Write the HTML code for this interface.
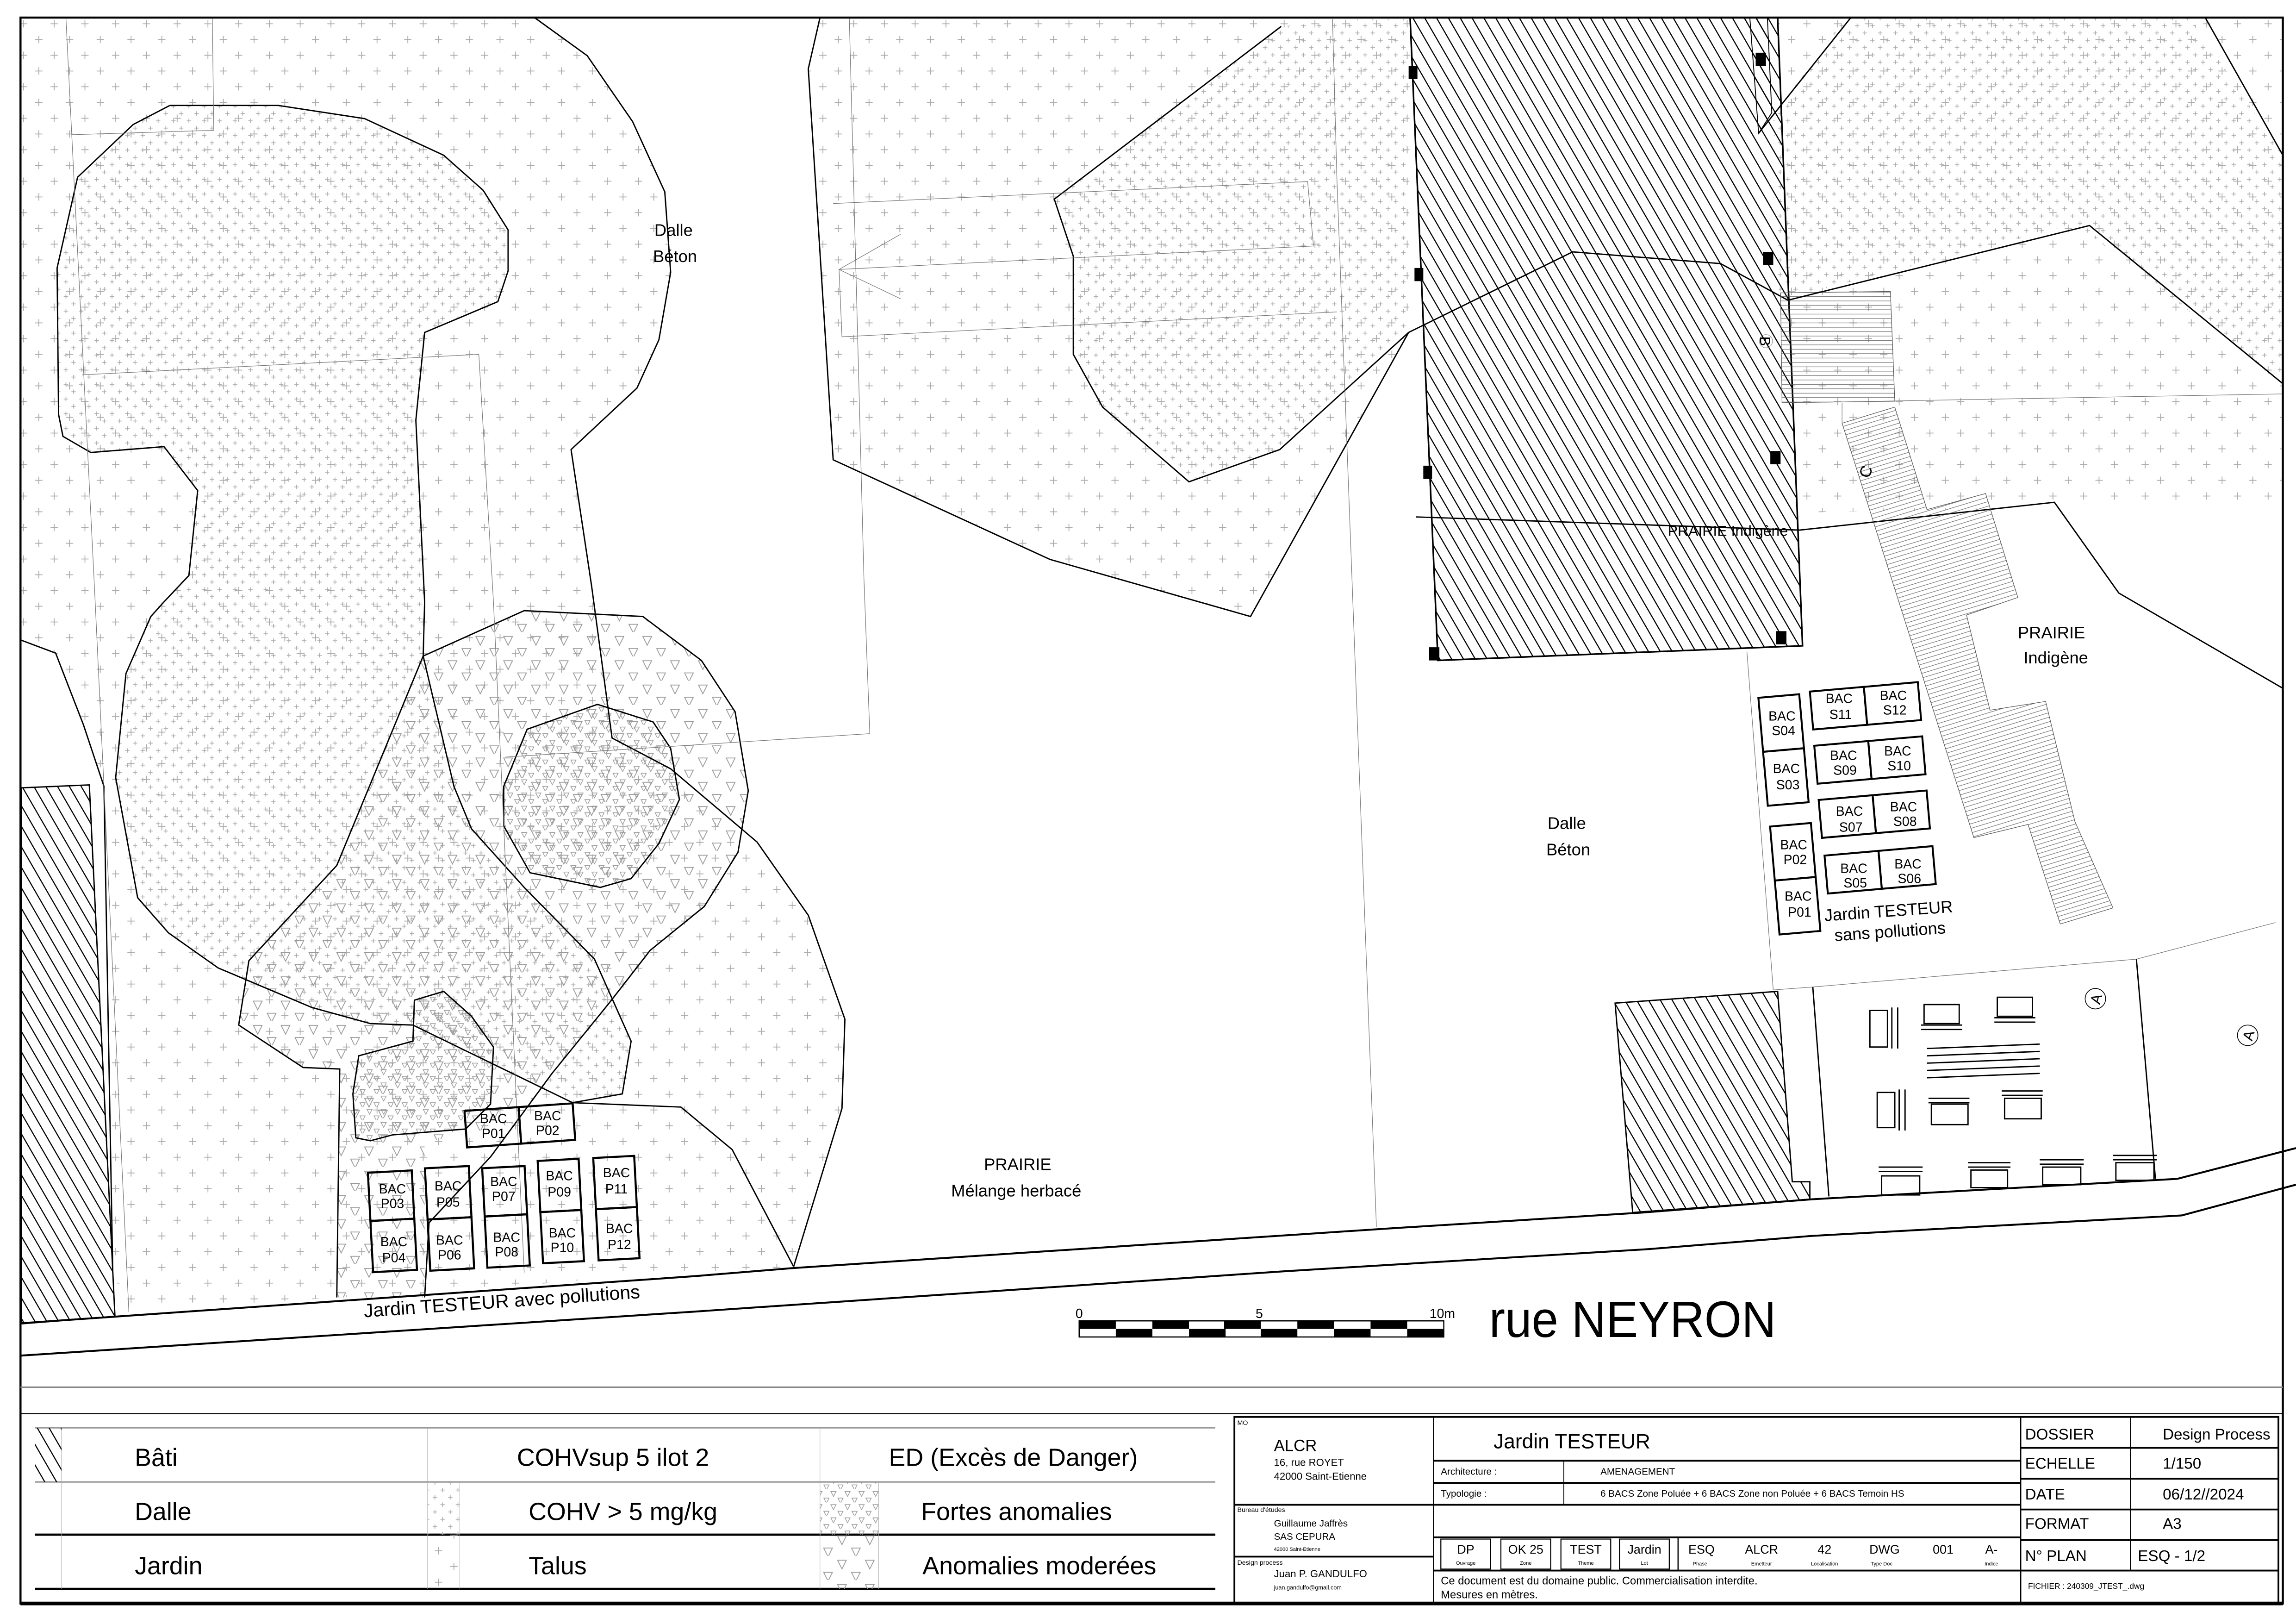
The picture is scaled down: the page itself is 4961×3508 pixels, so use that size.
<!DOCTYPE html>
<html><head><meta charset="utf-8"><style>
html,body{margin:0;padding:0;background:#fff}
svg{display:block}
text{font-family:"Liberation Sans",sans-serif;fill:#000}
</style></head><body>
<svg xmlns="http://www.w3.org/2000/svg" width="4961" height="3508" viewBox="0 0 1568 1109" preserveAspectRatio="none">
<defs>
<pattern id="pl" patternUnits="userSpaceOnUse" width="21" height="21.5">
<g stroke="#aaa" stroke-width="0.55"><path d="M3 5.5h5M5.5 3v5M13.5 16.25h5M16 13.75v5"/></g></pattern>
<pattern id="pld" patternUnits="userSpaceOnUse" width="10.5" height="10">
<g stroke="#aaa" stroke-width="0.5"><path d="M1.5 2.5h3M3 1v3M6.75 7.5h3M8.25 6v3"/></g></pattern>
<pattern id="tr" patternUnits="userSpaceOnUse" width="19" height="16.6">
<g fill="none" stroke="#999" stroke-width="0.55"><path d="M2 3h6l-3 6z"/><path d="M11.5 11.3h6l-3 6z"/></g></pattern>
<pattern id="trd" patternUnits="userSpaceOnUse" width="9.6" height="9">
<g fill="none" stroke="#999" stroke-width="0.45"><path d="M1 1.5h3.6l-1.8 3.4z"/><path d="M5.8 6h3.6l-1.8 3.4z"/></g></pattern>
<pattern id="ha" patternUnits="userSpaceOnUse" width="7" height="7" patternTransform="rotate(-30)">
<path d="M3.5 -1v9" stroke="#000" stroke-width="0.75"/></pattern>
<pattern id="st" patternUnits="userSpaceOnUse" width="20" height="3" patternTransform="rotate(-17)">
<path d="M0 1.5h20" stroke="#555" stroke-width="0.35"/></pattern>
<pattern id="st2" patternUnits="userSpaceOnUse" width="20" height="3">
<path d="M0 1.5h20" stroke="#555" stroke-width="0.35"/></pattern>
</defs>
<rect width="1568" height="1109" fill="#fff"/>

<!-- LEFT plus region -->
<path d="M14 12 L365 12 L401 38 L432 83 L454 131 L458 186 L450 232 L435 265 L390 307 L404 400 L418 504 L458 525 L517 575 L552 625 L577 696 L575 757 L542 865 L230 886 L88 896 L77 869 L71 537 L57 495 L38 446 L14 437 Z" fill="url(#pl)"/>
<!-- mushroom dense plus -->
<path d="M116 72 L190 72 L249 81 L303 106 L330 130 L347 157 L347 185 L340 206 L290 227 L284 287 L290 411 L289 448 L310 537 L322 566 L358 606 L406 655 L431 711 L425 747 L391 753 L282 700 L253 699 L213 688 L149 661 L115 637 L94 613 L79 531 L86 460 L103 421 L126 395 L129 393 L135 335 L112 305 L62 309 L43 298 L40 283 L39 183 L53 121 L91 85 Z" fill="url(#pld)"/>
<!-- triangles region -->
<path d="M289 448 L358 417 L439 421 L479 451 L502 486 L511 540 L504 582 L481 619 L444 649 L416 685 L377 733 L352 767 L290 780 L290 886 L230 886 L232 730 L207 729 L163 700 L170 656 L230 591 Z" fill="url(#tr)"/>
<path d="M360 498 L408 481 L446 493 L458 511 L464 546 L450 576 L431 600 L410 606 L362 596 L344 564 L344 537 Z" fill="url(#trd)"/>
<path d="M283 683 L303 677 L322 694 L337 715 L335 754 L318 771 L268 775 L253 779 L243 777 L241 747 L245 721 L282 711 Z" fill="url(#trd)"/>

<!-- TOP MIDDLE plus -->
<path d="M560 12 L963 12 L962 227 L854 421 L717 382 L569 314 L552 47 Z" fill="url(#pl)"/>
<path d="M875 18 L930 13 L962 13 L962 227 L874 307 L812 329 L753 278 L733 242 L733 175 L720 136 Z" fill="url(#pld)"/>

<!-- TOP RIGHT plus -->
<path d="M1214 12 L1559 12 L1559 470 L1447 405 L1403 343 L1229 361 L1222 205 Z" fill="url(#pl)"/>
<path d="M1260 12 L1496 12 L1559 106 L1559 262 L1418 153 L1215 205 L1211 79 Z" fill="url(#pld)"/>
<path d="M1229 362 L1403 343 L1447 405 L1559 470 L1559 344 L1229 350 Z" fill="#fff"/>

<!-- building hatched -->
<path d="M963 12 L1214 12 L1231 441 L982 451 Z" fill="url(#ha)" stroke="#000" stroke-width="1.1"/>
<path d="M1195 12 L1207 12 L1210 77 L1201 91 Z" fill="url(#ha)" stroke="#000" stroke-width="0.6"/>
<path d="M962 227 L1074 172 L1175 180 L1221 205" fill="none" stroke="#000" stroke-width="0.9"/>
<path d="M967 353 L1229 362 L1403 343 L1447 405 L1559 470" fill="none" stroke="#000" stroke-width="0.9"/>
<g fill="#000"><rect x="962" y="45" width="6" height="9"/><rect x="966" y="183" width="6" height="9"/><rect x="972" y="318" width="6" height="9"/><rect x="976" y="442" width="7" height="9"/>
<rect x="1199" y="36" width="7" height="9"/><rect x="1204" y="172" width="7" height="9"/><rect x="1209" y="308" width="7" height="9"/><rect x="1213" y="431" width="7" height="9"/></g>
<!-- stairs -->
<path d="M1216 200 L1291 199 L1294 274 L1217 275 Z" fill="url(#st2)" stroke="#555" stroke-width="0.4"/>
<path d="M1258 289 L1294 278 L1316 348 L1356 337 L1378 408 L1343 420 L1359 485 L1397 479 L1417 561 L1443 620 L1407 631 L1385 563 L1348 572 Z" fill="url(#st)" stroke="#555" stroke-width="0.4"/>
<circle cx="1206" cy="233" r="4.5" fill="none" stroke="#777" stroke-width="0.3"/>
<text x="1206" y="237" font-size="10" text-anchor="middle" transform="rotate(90 1206 233)">B</text>
<text x="1274" y="326" font-size="11" text-anchor="middle" transform="rotate(-70 1274 322)">C</text>

<!-- outlines left -->
<g fill="none" stroke="#000" stroke-width="0.9">
<path d="M365 12 L401 38 L432 83 L454 131 L458 186 L450 232 L435 265 L390 307 L404 400 L418 504 L458 525 L517 575 L552 625 L577 696 L575 757 L542 865"/>
<path d="M116 72 L190 72 L249 81 L303 106 L330 130 L347 157 L347 185 L340 206 L290 227 L284 287 L290 411 L289 448 L310 537 L322 566 L358 606 L406 655 L431 711 L425 747 L391 753"/>
<path d="M116 72 L91 85 L53 121 L39 183 L40 283 L43 298 L62 309 L112 305 L135 335 L129 393 L112 411 L103 421 L86 460 L79 531 L94 613 L115 637 L149 661 L213 688 L253 699 L282 700 L391 753 L465 756 L500 785 L542 865"/>
<path d="M289 448 L358 417 L439 421 L479 451 L502 486 L511 540 L504 582 L481 619 L444 649 L416 685 L377 733 L352 767 L335 790 L293 835 L290 886"/>
<path d="M289 448 L230 591 L170 656 L163 700 L207 729 L232 730 L230 886"/>
<path d="M360 498 L408 481 L446 493 L458 511 L464 546 L450 576 L431 600 L410 606 L362 596 L344 564 L344 537 Z"/>
<path d="M283 683 L303 677 L322 694 L337 715 L335 754 L318 771 L268 775 L253 779 L243 777 L241 747 L245 721 L282 711 Z"/>
<path d="M14 437 L38 446 L57 495 L71 537 L77 869"/>
<path d="M560 12 L552 47 L569 314 L717 382 L854 421 L962 227"/>
<path d="M875 18 L720 136 L733 175 L733 242 L753 278 L812 329 L874 307 L962 227"/>
<path d="M1264 12 L1201 91"/>
<path d="M1506 12 L1559 106"/>
<path d="M1221 205 L1427 154 L1559 262"/>
</g>
<!-- thin gray lines -->
<g fill="none" stroke="#777" stroke-width="0.4">
<path d="M45 12 L49 92 L146 89 L145 12"/>
<path d="M49 92 L65 411 L88 896"/>
<path d="M56 256 L327 242 L337 411 L358 869"/>
<path d="M345 517 L594 501 L590 395 L580 12"/>
<path d="M569 139 L893 124 L897 168 L573 184 M573 184 L575 230 L913 213 M913 122 L910 13 M913 122 L940 838 M615 160 L573 184 L615 204"/>
<path d="M1227 275 L1559 269"/>
<path d="M1193 445 L1211 676 M1211 676 L1238 674 L1459 655 L1554 630"/>
<path d="M1258 275 L1258 289"/>
</g>
<text x="1180" y="366" font-size="10" text-anchor="middle" textLength="82" lengthAdjust="spacingAndGlyphs">PRAIRIE Indigène</text>

<!-- left hatched strip -->
<path d="M14.5 538 L61 536 L78.5 899 L14.5 904 Z" fill="url(#ha)" stroke="#000" stroke-width="0.9"/>

<!-- lower right building -->
<path d="M1103 685 L1214 677 L1224 807 L1236 807 L1236 819 L1115 828 Z" fill="url(#ha)" stroke="#000" stroke-width="0.9"/>
<!-- plaza -->
<g fill="none" stroke="#000" stroke-width="0.9">
<path d="M1238 674 L1249 817"/><path d="M1459 655 L1472 805"/>
<path d="M1277 690 h12 v25 h-12 z M1292 688 v28 M1296 688 v28"/>
<path d="M1314 686 h24 v13 h-24 z M1312 700 h28 M1312 703 h28"/>
<path d="M1364 681 h24 v13 h-24 z M1362 695 h28 M1362 698 h28"/>
<path d="M1316 716 l77 -3 M1316 721 l77 -3 M1316 726 l77 -3 M1316 731 l77 -3 M1316 736 l77 -3"/>
<path d="M1282 746 h12 v24 h-12 z M1297 744 v28 M1301 744 v28"/>
<path d="M1319 754 h25 v14 h-25 z M1317 750 h28 M1317 753 h28"/>
<path d="M1369 750 h25 v14 h-25 z M1367 745 h28 M1367 748 h28"/>
<path d="M1285 803 h26 v13 h-26 z M1283 797 h30 M1283 800 h30"/>
<path d="M1346 799 h25 v12 h-25 z M1344 794 h29 M1344 797 h29"/>
<path d="M1395 797 h26 v12 h-26 z M1393 792 h30 M1393 795 h30"/>
<path d="M1445 794 h26 v12 h-26 z M1443 789 h30 M1443 792 h30"/>
</g>
<circle cx="1431" cy="682" r="7" fill="none" stroke="#000" stroke-width="0.5"/>
<text x="1431" y="686" font-size="10" text-anchor="middle" transform="rotate(-75 1431 682)">A</text>
<circle cx="1535" cy="707" r="7" fill="none" stroke="#000" stroke-width="0.5"/>
<text x="1535" y="711" font-size="10" text-anchor="middle" transform="rotate(-75 1535 707)">A</text>

<!-- road -->
<g fill="none" stroke="#000" stroke-width="1.3">
<path d="M14.5 903.6 L474 871.5 L541 866 L947 839 L1122 828 L1237 819 L1487 805 L1568 784"/>
<path d="M14.5 925.7 L474 895.7 L879 868 L1126 853 L1237 844 L1490 830 L1568 809"/>
</g>
<text x="343" y="893" font-size="13" text-anchor="middle" transform="rotate(-4 343 893)">Jardin TESTEUR  avec pollutions</text>

<!-- BACs left -->
<g fill="#fff" fill-opacity="0" stroke="#000" stroke-width="1.4">
<g transform="rotate(-4 355 768)"><rect x="318" y="756" width="37" height="25"/><rect x="355" y="756" width="37" height="25"/></g>
<g transform="rotate(-3 268 834)"><rect x="253" y="800" width="30" height="33"/><rect x="253" y="833" width="30" height="35"/></g>
<g transform="rotate(-3 307 832)"><rect x="292" y="797" width="30" height="35"/><rect x="292" y="832" width="30" height="35"/></g>
<g transform="rotate(-3 345 830)"><rect x="331" y="797" width="29" height="33"/><rect x="331" y="830" width="29" height="35"/></g>
<g transform="rotate(-3 383 827)"><rect x="369" y="792" width="28" height="35"/><rect x="369" y="827" width="28" height="35"/></g>
<g transform="rotate(-3 421 826)"><rect x="407" y="790" width="28" height="35"/><rect x="407" y="825" width="28" height="35"/></g>
</g>
<g font-size="9" text-anchor="middle">
<text x="337" y="767">BAC</text><text x="337" y="777">P01</text>
<text x="374" y="765">BAC</text><text x="374" y="775">P02</text>
<text x="268" y="815">BAC</text><text x="268" y="825">P03</text>
<text x="269" y="851">BAC</text><text x="269" y="862">P04</text>
<text x="306" y="813">BAC</text><text x="306" y="824">P05</text>
<text x="307" y="850">BAC</text><text x="307" y="860">P06</text>
<text x="344" y="810">BAC</text><text x="344" y="820">P07</text>
<text x="346" y="848">BAC</text><text x="346" y="858">P08</text>
<text x="382" y="806">BAC</text><text x="382" y="817">P09</text>
<text x="384" y="845">BAC</text><text x="384" y="855">P10</text>
<text x="421" y="804">BAC</text><text x="421" y="815">P11</text>
<text x="423" y="842">BAC</text><text x="423" y="853">P12</text>
</g>

<!-- BACs right -->
<g fill="none" stroke="#000" stroke-width="1.3">
<g transform="rotate(-5 1220 512)"><rect x="1204" y="475" width="28" height="37"/><rect x="1204" y="512" width="28" height="37"/></g>
<g transform="rotate(-5 1227 600)"><rect x="1212" y="563" width="28" height="37"/><rect x="1212" y="600" width="28" height="37"/></g>
<g transform="rotate(-5 1274 482)"><rect x="1237" y="469" width="37" height="26"/><rect x="1274" y="469" width="37" height="26"/></g>
<g transform="rotate(-5 1277 519)"><rect x="1240" y="506" width="37" height="26"/><rect x="1277" y="506" width="37" height="26"/></g>
<g transform="rotate(-5 1280 556)"><rect x="1243" y="543" width="37" height="26"/><rect x="1280" y="543" width="37" height="26"/></g>
<g transform="rotate(-5 1284 594)"><rect x="1247" y="581" width="37" height="26"/><rect x="1284" y="581" width="37" height="26"/></g>
</g>
<g font-size="9" text-anchor="middle">
<text x="1217" y="492">BAC</text><text x="1218" y="502">S04</text>
<text x="1220" y="528">BAC</text><text x="1221" y="539">S03</text>
<text x="1225" y="580">BAC</text><text x="1226" y="590">P02</text>
<text x="1228" y="615">BAC</text><text x="1229" y="626">P01</text>
<text x="1256" y="480">BAC</text><text x="1257" y="491">S11</text>
<text x="1293" y="478">BAC</text><text x="1294" y="488">S12</text>
<text x="1259" y="519">BAC</text><text x="1260" y="529">S09</text>
<text x="1296" y="516">BAC</text><text x="1297" y="526">S10</text>
<text x="1263" y="557">BAC</text><text x="1264" y="568">S07</text>
<text x="1300" y="554">BAC</text><text x="1301" y="564">S08</text>
<text x="1266" y="596">BAC</text><text x="1267" y="606">S05</text>
<text x="1303" y="593">BAC</text><text x="1304" y="603">S06</text>
</g>
<g font-size="11.5" text-anchor="middle">
<text x="1290" y="626" transform="rotate(-4 1290 626)">Jardin TESTEUR</text>
<text x="1291" y="640" transform="rotate(-4 1291 640)">sans pollutions</text>
<text x="460" y="161">Dalle</text><text x="461" y="179">Béton</text>
<text x="1070" y="566">Dalle</text><text x="1071" y="584">Béton</text>
<text x="695" y="799">PRAIRIE</text><text x="694" y="817">Mélange herbacé</text>
<text x="1401" y="436">PRAIRIE</text><text x="1404" y="453">Indigène</text>
</g>

<!-- scale bar -->
<g>
<rect x="737" y="902" width="249" height="11" fill="#fff" stroke="#000" stroke-width="0.8"/>
<g fill="#000">
<rect x="737" y="902" width="25" height="5.5"/><rect x="787" y="902" width="25" height="5.5"/><rect x="836" y="902" width="25" height="5.5"/><rect x="886" y="902" width="25" height="5.5"/><rect x="936" y="902" width="25" height="5.5"/>
<rect x="762" y="907.5" width="25" height="5.5"/><rect x="812" y="907.5" width="25" height="5.5"/><rect x="861" y="907.5" width="25" height="5.5"/><rect x="911" y="907.5" width="25" height="5.5"/><rect x="961" y="907.5" width="25" height="5.5"/>
</g>
<text x="737" y="900" font-size="9" text-anchor="middle">0</text>
<text x="860" y="900" font-size="9" text-anchor="middle">5</text>
<text x="985" y="900" font-size="9" text-anchor="middle">10m</text>
<text x="1017" y="913" font-size="35" textLength="196" lengthAdjust="spacingAndGlyphs">rue NEYRON</text>
</g>

<!-- frames -->
<rect x="14" y="12" width="1545" height="1083" fill="none" stroke="#000" stroke-width="1.4"/>
<path d="M14 947.3 H1559" stroke="#888" stroke-width="1"/>
<path d="M14 965.4 H1559" stroke="#000" stroke-width="0.8"/>
<path d="M14 1095 H1559" stroke="#000" stroke-width="2.5"/>

<!-- legend -->
<rect x="24" y="975" width="806" height="110" fill="none"/>
<path d="M24 975 H830 M24 1012 H830" stroke="#999" stroke-width="1"/>
<path d="M24 1048 H830 M24 1085 H830" stroke="#000" stroke-width="1.5"/>
<path d="M42 975 V1085 M292 975 V1085 M314 1012 V1085 M560 975 V1085 M600 1012 V1085" stroke="#aaa" stroke-width="0.3"/>
<rect x="24" y="975" width="18" height="37" fill="url(#ha)"/>
<rect x="292" y="1012" width="22" height="36" fill="url(#pld)"/>
<rect x="292" y="1048" width="22" height="37" fill="url(#pl)"/>
<rect x="560" y="1012" width="40" height="36" fill="url(#trd)"/>
<rect x="560" y="1048" width="40" height="37" fill="url(#tr)"/>
<g font-size="17">
<text x="92" y="1001">Bâti</text><text x="353" y="1001">COHVsup 5 ilot 2</text><text x="607" y="1001">ED (Excès de Danger)</text>
<text x="92" y="1038">Dalle</text><text x="361" y="1038">COHV  &gt; 5 mg/kg</text><text x="629" y="1038">Fortes anomalies</text>
<text x="92" y="1075">Jardin</text><text x="361" y="1075">Talus</text><text x="630" y="1075">Anomalies moderées</text>
</g>

<!-- title block -->
<g fill="none" stroke="#000">
<rect x="843" y="967.6" width="713" height="127.4" stroke-width="1.2"/>
<path d="M979 967.6 V1095 M1380 967.6 V1095 M1455 967.6 V1072.5" stroke-width="0.8"/>
<path d="M843 1027.6 H979 M843 1063 H979" stroke-width="1.2"/>
<path d="M979 997.5 H1380 M979 1012.6 H1380 M979 1027.6 H1380 M979 1049.8 H1380 M979 1072.5 H1556" stroke-width="1.2"/>
<path d="M1068 997.5 V1027.6" stroke-width="0.6"/>
<path d="M1380 988.7 H1556 M1380 1009.8 H1556 M1380 1030.8 H1556 M1380 1051.7 H1556" stroke-width="1.2"/>
<path d="M1146 1049.8 V1072.5" stroke-width="0.8"/>
<rect x="984" y="1051" width="34" height="20.5" stroke-width="0.7"/>
<rect x="1025" y="1051" width="34" height="20.5" stroke-width="0.7"/>
<rect x="1066" y="1051" width="34" height="20.5" stroke-width="0.7"/>
<rect x="1106" y="1051" width="34" height="20.5" stroke-width="0.7"/>
</g>
<g>
<text x="845" y="973" font-size="4.5">MO</text>
<text x="870" y="991" font-size="11">ALCR</text>
<text x="870" y="1001" font-size="7">16, rue ROYET</text>
<text x="870" y="1010.5" font-size="7">42000 Saint-Etienne</text>
<text x="845" y="1032.5" font-size="4.5">Bureau d'études</text>
<text x="870" y="1042.5" font-size="6.5">Guillaume Jaffrès</text>
<text x="870" y="1051.5" font-size="6.5">SAS CEPURA</text>
<text x="870" y="1059" font-size="3.5">42000 Saint-Etienne</text>
<text x="845" y="1068.5" font-size="4.5">Design process</text>
<text x="870" y="1077" font-size="7">Juan P. GANDULFO</text>
<text x="870" y="1085.5" font-size="4">juan.gandulfo@gmail.com</text>
<text x="1020" y="989" font-size="14">Jardin TESTEUR</text>
<text x="984" y="1007" font-size="6.5">Architecture :</text>
<text x="1093" y="1007" font-size="6.5">AMENAGEMENT</text>
<text x="984" y="1022" font-size="6.5">Typologie :</text>
<text x="1093" y="1022" font-size="6.5">6 BACS Zone Poluée + 6 BACS Zone non Poluée + 6 BACS Temoin HS</text>
<g font-size="8.5" text-anchor="middle">
<text x="1001" y="1061">DP</text><text x="1042" y="1061">OK 25</text><text x="1083" y="1061">TEST</text><text x="1123" y="1061">Jardin</text>
<text x="1162" y="1061">ESQ</text><text x="1203" y="1061">ALCR</text><text x="1246" y="1061">42</text><text x="1287" y="1061">DWG</text><text x="1327" y="1061">001</text><text x="1360" y="1061">A-</text>
</g>
<g font-size="3.5" text-anchor="middle">
<text x="1001" y="1068.5">Ouvrage</text><text x="1042" y="1068.5">Zone</text><text x="1083" y="1068.5">Theme</text><text x="1123" y="1068.5">Lot</text>
<text x="1161" y="1069">Phase</text><text x="1203" y="1069">Emetteur</text><text x="1246" y="1069">Localisation</text><text x="1285" y="1069">Type Doc</text><text x="1360" y="1069">Indice</text>
</g>
<text x="984" y="1082" font-size="7.5">Ce document est du domaine public.   Commercialisation interdite.</text>
<text x="984" y="1091.5" font-size="7.5">Mesures en mètres.</text>
<g font-size="10.5">
<text x="1383" y="983">DOSSIER</text><text x="1477" y="983">Design Process</text>
<text x="1383" y="1003">ECHELLE</text><text x="1477" y="1003">1/150</text>
<text x="1383" y="1024">DATE</text><text x="1477" y="1024">06/12//2024</text>
<text x="1383" y="1044">FORMAT</text><text x="1477" y="1044">A3</text>
<text x="1383" y="1066">N° PLAN</text><text x="1460" y="1066">ESQ   -     1/2</text>
</g>
<text x="1385" y="1085" font-size="5.5">FICHIER :  240309_JTEST_.dwg</text>
</g>
</svg>
</body></html>
